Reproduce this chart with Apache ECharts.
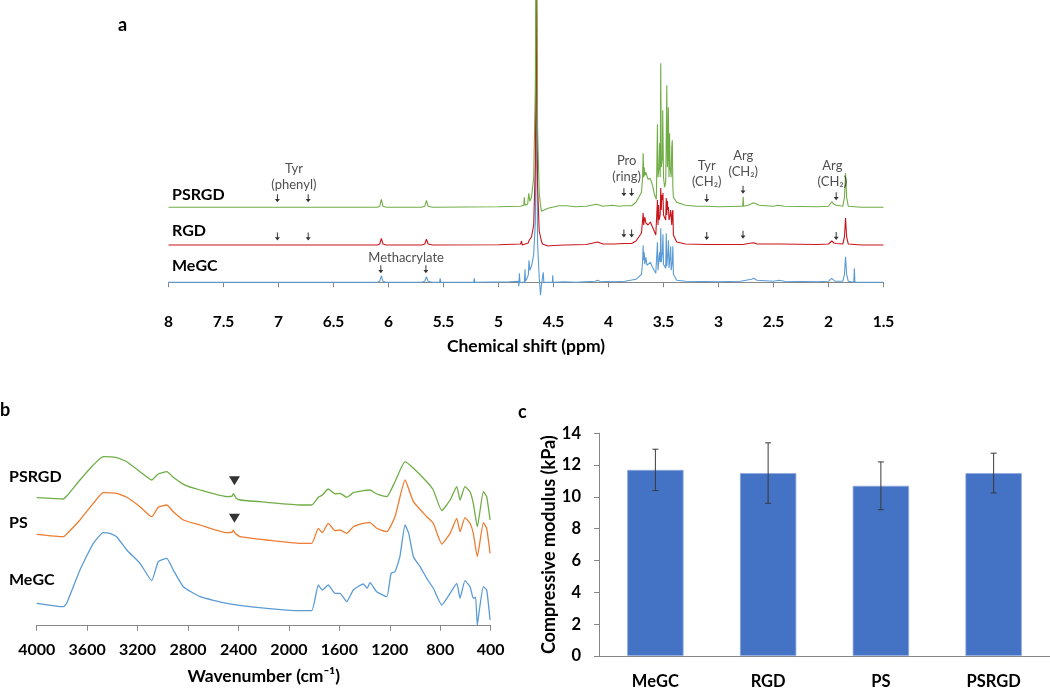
<!DOCTYPE html>
<html><head><meta charset="utf-8">
<script src="https://cdn.jsdelivr.net/npm/echarts@6/dist/echarts.min.js"></script>
<style>html,body{margin:0;padding:0;background:#fff}#c{width:1050px;height:690px}</style>
</head><body><div id="c"></div>
<script>
// ---------- Panel a: 1H NMR (ppm, intensity a.u. above own baseline) ----------
const nmrMeGC = [[8,0],[7.0,0],[6.1,0],[6.08,1],[6.065,6.5],[6.05,1],[6.02,0],[5.7,0],[5.67,1],[5.655,5.5],[5.64,1],[5.6,0],[5.535,0],[5.53,4],[5.525,0],[5.225,0],[5.22,4],[5.215,0],[4.9,0.5],[4.82,1],[4.815,-4],[4.81,9],[4.805,0],[4.765,0],[4.762,-2],[4.759,13],[4.755,1],[4.74,4],[4.728,8],[4.723,22],[4.715,12],[4.7,16],[4.68,28],[4.665,60],[4.655,200],[4.645,40],[4.63,5],[4.618,-13],[4.61,-3],[4.597,-4],[4.593,10],[4.588,0],[4.55,0],[4.51,0],[4.507,7],[4.503,0],[4.4,0.5],[4.3,0],[4.12,1],[4.1,2],[4.08,1],[3.95,0.5],[3.85,1],[3.75,3],[3.7,8],[3.69,20],[3.685,37],[3.68,22],[3.675,30],[3.67,18],[3.66,25],[3.65,17],[3.62,20],[3.6,15],[3.57,9],[3.56,10],[3.555,40],[3.55,12],[3.54,25],[3.535,30],[3.53,20],[3.525,54],[3.52,20],[3.51,30],[3.505,48],[3.5,18],[3.48,14],[3.475,49],[3.47,16],[3.46,30],[3.455,42],[3.45,14],[3.44,26],[3.435,36],[3.43,12],[3.42,20],[3.415,36],[3.41,8],[3.38,2],[3.3,1],[3.0,0.5],[2.8,1],[2.7,3],[2.68,4],[2.65,2],[2.5,1],[2.45,2],[2.4,1],[2.1,0.5],[2.0,1],[1.97,4],[1.94,1],[1.87,1],[1.855,8],[1.845,25.6],[1.835,8],[1.82,1],[1.77,0],[1.765,14],[1.76,0],[1.7,0],[1.5,0]];
const nmrRGD = [[8,0],[7.02,0],[7.01,0.8],[7.0,0],[6.74,0],[6.73,0.8],[6.72,0],[6.1,0],[6.08,1],[6.065,6.7],[6.05,1],[6.02,0],[5.7,0],[5.67,1],[5.655,5.7],[5.64,1],[5.6,0],[5.0,0.3],[4.8,1],[4.79,4],[4.785,0],[4.73,2],[4.72,5],[4.7,8],[4.68,20],[4.665,80],[4.655,260],[4.645,60],[4.63,14],[4.62,15],[4.61,4],[4.6,1],[4.55,-1],[4.5,-0.5],[4.4,0],[4.2,0.5],[4.1,3],[4.05,1],[3.95,1],[3.86,1.5],[3.85,1],[3.79,1.5],[3.75,4],[3.7,12],[3.685,32],[3.68,20],[3.67,28],[3.66,22],[3.64,20],[3.62,23],[3.6,18],[3.57,10],[3.56,12],[3.555,45],[3.55,20],[3.545,40],[3.54,25],[3.53,30],[3.525,57],[3.52,35],[3.515,50],[3.51,45],[3.505,52],[3.5,30],[3.48,25],[3.475,47],[3.47,30],[3.465,44],[3.46,35],[3.455,38],[3.45,25],[3.44,30],[3.435,35],[3.425,20],[3.42,32],[3.415,35],[3.41,10],[3.38,3],[3.3,1],[3.11,0.5],[3.0,0.5],[2.78,0.5],[2.775,2],[2.77,0.5],[2.7,2],[2.68,2.3],[2.65,1],[2.45,1],[2.1,0.5],[2.0,1],[1.97,4],[1.95,2],[1.93,1.5],[1.87,1],[1.855,8],[1.845,27],[1.835,8],[1.82,1],[1.7,0],[1.5,0]];
const nmrPSRGD = [[8,0],[7.02,0],[7.01,0.8],[7.0,0],[6.74,0],[6.73,0.8],[6.72,0],[6.1,0],[6.08,1],[6.065,8],[6.05,1],[6.02,0],[5.7,0],[5.67,1],[5.655,7],[5.64,1],[5.6,0],[5.0,0.5],[4.8,1],[4.77,2],[4.765,10],[4.76,2],[4.735,3],[4.725,14],[4.715,6],[4.7,10],[4.68,30],[4.665,120],[4.655,400],[4.645,80],[4.63,15],[4.62,4],[4.61,-4],[4.6,-2],[4.55,-1],[4.45,1.5],[4.38,1.5],[4.3,0.5],[4.2,1],[4.11,3],[4.05,1],[3.97,2],[3.9,1],[3.86,1.5],[3.85,1],[3.79,1.5],[3.75,5],[3.7,15],[3.69,30],[3.685,54],[3.68,30],[3.675,40],[3.67,32],[3.66,35],[3.64,28],[3.62,29],[3.6,22],[3.58,12],[3.565,8],[3.56,10],[3.555,83],[3.55,30],[3.54,40],[3.535,64],[3.53,30],[3.525,144],[3.52,40],[3.51,50],[3.507,97],[3.5,30],[3.49,20],[3.48,25],[3.475,70],[3.47,122],[3.465,40],[3.46,50],[3.456,100],[3.45,30],[3.445,74],[3.44,40],[3.43,30],[3.425,60],[3.42,67],[3.415,20],[3.41,10],[3.38,5],[3.3,2],[3.2,1],[3.1,1],[3.0,0.5],[2.8,1],[2.78,1],[2.776,10.6],[2.772,1],[2.73,2],[2.68,4.6],[2.63,2],[2.5,1],[2.46,2],[2.4,1],[2.1,0.5],[2.0,1],[1.97,5.6],[1.95,3],[1.93,2],[1.87,1],[1.855,10],[1.845,34],[1.835,10],[1.82,1],[1.7,0],[1.5,0]];
const nmrNames = ['MeGC','RGD','PSRGD'];
const nmrOffsets = [0, 37.3, 75];          // stacking offsets (a.u.)
const nmrColors = ['#5B9BD5','#C8151B','#70AD47'];
// annotation arrows: [ppm, height above own baseline]
const arrowsPSRGD = [[7.01,9],[6.73,9],[3.86,15],[3.79,15],[3.107,9],[2.777,17.5],[1.93,11]];
const arrowsRGD = [[7.01,8.5],[6.73,8.5],[3.86,11.5],[3.79,11.5],[3.107,9],[2.777,10.3],[1.93,9]];
const arrowsMeGC = [[6.07,13],[5.66,13]];
// annotation labels: [ppm, height above MeGC baseline, text]
const nmrLabels = [[6.86,105,'Tyr\n(phenyl)'],[3.835,113,'Pro\n(ring)'],[3.107,108,'Tyr\n(CH₂)'],[2.775,118,'Arg\n(CH₂)'],[1.965,108,'Arg\n(CH₂)'],[5.84,24.6,'Methacrylate']];

// ---------- Panel b: FTIR (wavenumber, a.u.) ----------
const ftirPSRGD = [[4000,128],[3789,126.7],[3762,129.7],[3657,145.7],[3551,160.7],[3472,169],[3366,168],[3286,164],[3181,154],[3088,145.7],[3036,151.7],[2969,154],[2917,148.4],[2837,141.4],[2705,135.7],[2493,129],[2450,129.5],[2441,132],[2430,130],[2420,127.7],[2388,125.7],[2176,123.4],[1912,120.7],[1819,120.7],[1767,128.4],[1735,130.7],[1688,136.7],[1634,131.7],[1595,132.4],[1542,128.4],[1489,133],[1410,135],[1357,135.7],[1304,131.7],[1224,129],[1159,144],[1079,164],[1013,157.4],[907,144],[855,135.7],[788,115],[722,125.7],[669,139],[643,125.7],[604,139],[564,134],[538,122.4],[506,99],[458,134],[432,129],[405,105.7]];
const ftirPS = [[4000,91.4],[3789,89],[3762,91.7],[3657,105.7],[3551,122.4],[3472,133],[3366,132.4],[3286,128.4],[3181,119],[3088,109],[3036,118.4],[2969,120.7],[2917,114],[2837,105.7],[2705,100.7],[2493,93],[2450,93.5],[2441,95.5],[2430,93],[2420,91.7],[2388,89],[2176,85.7],[1912,82.4],[1819,82.4],[1767,97.4],[1735,93],[1688,102.4],[1634,95],[1595,95.7],[1542,92.4],[1489,99],[1410,102.4],[1357,103],[1304,97.4],[1224,94],[1159,109],[1079,145.7],[1013,124],[907,109],[855,102.4],[788,81.7],[722,92.4],[669,107.4],[643,94],[604,108],[564,102.4],[538,92.4],[506,69],[458,103],[432,97.4],[405,72.4]];
const ftirMeGC = [[4000,22.4],[3789,19],[3762,22.4],[3657,55.7],[3551,82.4],[3472,93],[3420,92.4],[3366,89],[3286,75.7],[3181,62.4],[3088,45],[3036,64],[2969,67.4],[2917,55.7],[2837,39],[2705,29],[2493,22.4],[2176,17.4],[1912,15],[1819,15],[1767,40.7],[1735,35.7],[1688,40.7],[1634,32.4],[1595,32.4],[1542,24],[1489,35.7],[1410,41.7],[1380,37.4],[1357,43],[1304,34],[1224,29],[1190,52.4],[1159,54],[1120,69],[1079,100.7],[1050,92.4],[1013,69],[960,59],[907,47.4],[855,37.4],[788,20.7],[722,32.4],[669,42.4],[643,27.4],[604,45],[564,39],[538,27.4],[520,28.4],[506,0.5],[490,15.7],[458,39],[432,35.7],[405,5.7]];
const ftirNames = ['MeGC','PS','PSRGD'];
const ftirColors = ['#5B9BD5','#ED7D31','#70AD47'];
const ftirMarkers = [[2432,145],[2432,107.4]];

// ---------- Panel c: compressive modulus ----------
const barCats = ['MeGC','RGD','PS','PSRGD'];
const barVals = [11.7, 11.5, 10.7, 11.5];
const barErr = [1.3, 1.9, 1.5, 1.25];

const FONT = 'Lato, "Open Sans", sans-serif';
const AX = '#868686';
const chart = echarts.init(document.getElementById('c'));

const nmrData = [nmrMeGC, nmrRGD, nmrPSRGD];
const series = [];
nmrData.forEach((d, i) => {
  series.push({type:'line', xAxisIndex:0, yAxisIndex:0, showSymbol:false, silent:true,
    data: d.map(p => [p[0], p[1] + nmrOffsets[i]]),
    lineStyle:{color:nmrColors[i], width:1.1}, itemStyle:{color:nmrColors[i]}, z:2+i});
});
const arrowPath = 'path://M2,0 L3,0 L3,6 L5,6 L2.5,10 L0,6 L2,6 Z';
const arrowData = [].concat(
  arrowsMeGC.map(a => [a[0], a[1] + nmrOffsets[0]]),
  arrowsRGD.map(a => [a[0], a[1] + nmrOffsets[1]]),
  arrowsPSRGD.map(a => [a[0], a[1] + nmrOffsets[2]]));
series.push({type:'scatter', xAxisIndex:0, yAxisIndex:0, symbol:arrowPath, symbolSize:[5,8],
  itemStyle:{color:'#000'}, data:arrowData, z:10, silent:true});
series.push({type:'scatter', xAxisIndex:0, yAxisIndex:0, symbolSize:1, itemStyle:{color:'rgba(0,0,0,0)'}, silent:true, z:11,
  data: nmrLabels.map(l => ({value:[l[0], l[1]], name:l[2]})),
  label:{show:true, position:'inside', formatter:'{b}', color:'#222', fontFamily:FONT, fontSize:13, lineHeight:16, align:'center', verticalAlign:'middle'}});

const ftirData = [ftirMeGC, ftirPS, ftirPSRGD];
ftirData.forEach((d, i) => {
  series.push({type:'line', xAxisIndex:1, yAxisIndex:1, showSymbol:false, silent:true, data:d, smooth:0.15,
    lineStyle:{color:ftirColors[i], width:1.3}, itemStyle:{color:ftirColors[i]}});
});
series.push({type:'scatter', xAxisIndex:1, yAxisIndex:1, symbol:'triangle', symbolRotate:180, symbolSize:[11,9],
  itemStyle:{color:'#000'}, data:ftirMarkers, silent:true});

series.push({type:'bar', xAxisIndex:2, yAxisIndex:2, data:barVals, barWidth:'50%',
  itemStyle:{color:'#4472C4', borderColor:'#8FAADC', borderWidth:0.8}, silent:true});
series.push({type:'custom', xAxisIndex:2, yAxisIndex:2, silent:true, z:5,
  data: barVals.map((v, i) => [i, v - barErr[i], v + barErr[i]]),
  renderItem: function (params, api) {
    const lo = api.coord([api.value(0), api.value(1)]);
    const hi = api.coord([api.value(0), api.value(2)]);
    const w = 3;
    const st = {stroke:'#3a3a3a', lineWidth:1};
    return {type:'group', children:[
      {type:'line', shape:{x1:hi[0], y1:hi[1], x2:lo[0], y2:lo[1]}, style:st},
      {type:'line', shape:{x1:hi[0]-w, y1:hi[1], x2:hi[0]+w, y2:hi[1]}, style:st},
      {type:'line', shape:{x1:lo[0]-w, y1:lo[1], x2:lo[0]+w, y2:lo[1]}, style:st}
    ]};
  }});

const txt = (x, y, t, size, extra) => Object.assign({type:'text', x:x, y:y, style:{text:t, font:'bold ' + size + 'px ' + FONT, fill:'#000', textVerticalAlign:'middle'}}, extra || {});
const plain = v => String(v);

chart.setOption({
  animation:false,
  textStyle:{fontFamily:FONT},
  grid:[
    {left:168.5, top:0, width:715, height:298},
    {left:36.7, top:425.7, width:454, height:200},
    {left:599, top:433.3, width:451, height:226}
  ],
  xAxis:[
    {type:'value', gridIndex:0, min:1.5, max:8, interval:0.5, inverse:true,
      name:'Chemical shift (ppm)', nameLocation:'middle', nameGap:39,
      nameTextStyle:{fontFamily:FONT, fontWeight:'bold', fontSize:17.5, color:'#000'},
      axisLine:{lineStyle:{color:AX}}, axisTick:{length:5, lineStyle:{color:AX}}, splitLine:{show:false},
      axisLabel:{margin:16, fontFamily:FONT, fontWeight:'bold', fontSize:15.5, color:'#000', formatter:plain}},
    {type:'value', gridIndex:1, min:400, max:4000, interval:400, inverse:true,
      name:'Wavenumber (cm⁻¹)', nameLocation:'middle', nameGap:42,
      nameTextStyle:{fontFamily:FONT, fontWeight:'bold', fontSize:17.5, color:'#000'},
      axisLine:{lineStyle:{color:AX}}, axisTick:{length:5, lineStyle:{color:AX}}, splitLine:{show:false},
      axisLabel:{margin:16, fontFamily:FONT, fontWeight:'bold', fontSize:16, color:'#000', formatter:plain}},
    {type:'category', gridIndex:2, data:barCats,
      axisLine:{lineStyle:{color:AX}}, axisTick:{length:6, lineStyle:{color:AX}},
      axisLabel:{margin:17, fontFamily:FONT, fontWeight:'bold', fontSize:16.5, color:'#000'}}
  ],
  yAxis:[
    {type:'value', gridIndex:0, min:-15.7, max:282.3, show:false, splitLine:{show:false}},
    {type:'value', gridIndex:1, min:0, max:200, show:false, splitLine:{show:false}},
    {type:'value', gridIndex:2, min:0, max:14, interval:2,
      name:'Compressive modulus (kPa)', nameLocation:'middle', nameGap:40, nameRotate:90,
      nameTextStyle:{fontFamily:FONT, fontWeight:'bold', fontSize:18, color:'#000'},
      axisLine:{show:true, lineStyle:{color:AX}}, axisTick:{show:true, length:5, lineStyle:{color:AX}},
      splitLine:{show:false},
      axisLabel:{margin:18, fontFamily:FONT, fontWeight:'bold', fontSize:16.5, color:'#000'}}
  ],
  graphic:[
    txt(118, 25, 'a', 18),
    txt(0, 410, 'b', 18),
    txt(518, 412, 'c', 18),
    txt(172, 195, nmrNames[2], 16),
    txt(172, 231, nmrNames[1], 16),
    txt(172, 266, nmrNames[0], 16),
    txt(9, 477, ftirNames[2], 16),
    txt(9, 523, ftirNames[1], 16),
    txt(9, 580, ftirNames[0], 16)
  ],
  series:series
});
</script></body></html>
